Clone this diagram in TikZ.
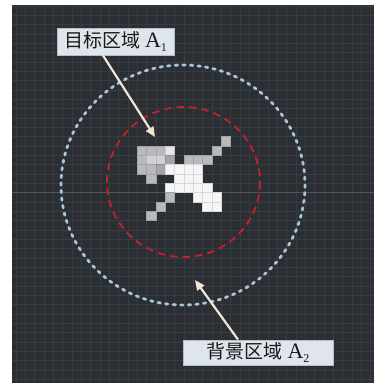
\documentclass[tikz,border=0pt]{standalone}
\usepackage{fontspec}
\setmainfont{Liberation Serif}
\newfontfamily\cjk{Noto Sans CJK SC}
\usetikzlibrary{arrows.meta}
\definecolor{bgc}{HTML}{2B2E33}
\definecolor{gridc}{HTML}{373B42}
\definecolor{axisc}{HTML}{50555D}
\definecolor{outerc}{HTML}{A9C6D8}
\definecolor{innerc}{HTML}{C8202A}
\definecolor{arrc}{HTML}{F0E6D8}
\definecolor{labfill}{HTML}{DFE5EC}
\definecolor{labdraw}{HTML}{B8BDC3}
\definecolor{pg}{HTML}{B7B9BD}
\definecolor{pl}{HTML}{D0D1D4}
\definecolor{pm}{HTML}{A3A5AA}
\definecolor{pw}{HTML}{F6F6F6}
\definecolor{pn}{HTML}{E6E6E8}
\tikzset{
  lab/.style={draw=labdraw, line width=0.8pt, fill=labfill, inner sep=0pt, text=black!90},
  arr/.style={draw=arrc, line width=2.2pt, -{Triangle[length=10pt,width=8.5pt]}, fill=arrc},
  cell/.style={line width=0.4pt}
}
\newcommand{\labtext}[2]{{\fontsize{19}{21}\selectfont\cjk #1}\hspace{5pt}{\fontsize{22}{22}\selectfont A}\raisebox{-3.5pt}{\fontsize{12}{12}\selectfont #2}}
\begin{document}
\begin{tikzpicture}[x=1pt,y=-1pt]
\useasboundingbox (0,0) rectangle (375,383);
\fill[white] (0,0) rectangle (375,383);
\fill[bgc] (12,5) rectangle (374,383);
% background grid
\begin{scope}
\clip (12,5) rectangle (374,383);
\foreach \k in {-14,...,26} {
  \draw[gridc, line width=0.6pt] ({137.3+9.333*\k},5) -- ({137.3+9.333*\k},383);
}
\foreach \k in {-16,...,26} {
  \draw[gridc, line width=0.6pt] (12,{146+9.333*\k}) -- (374,{146+9.333*\k});
}
\draw[axisc, line width=1pt] (12,192.7) -- (374,192.7);
\end{scope}
% pixel cells
\foreach \c/\r/\col in {9/-1/pg,
  0/0/pg,1/0/pg,2/0/pg,3/0/pn,8/0/pg,
  0/1/pg,1/1/pl,2/1/pl,3/1/pm,5/1/pg,6/1/pg,7/1/pg,
  0/2/pg,1/2/pg,2/2/pm,3/2/pw,4/2/pw,5/2/pw,6/2/pw,
  1/3/pg,4/3/pw,5/3/pw,6/3/pw,
  3/4/pw,4/4/pw,5/4/pw,6/4/pw,7/4/pw,
  3/5/pg,6/5/pw,7/5/pw,8/5/pw,
  2/6/pg,7/6/pw,8/6/pw,
  1/7/pg} {
  \filldraw[cell, fill=\col, draw=\col!88!black] ({137.3+9.333*\c},{146+9.333*\r}) rectangle ++(9.333,9.333);
}
% circles
\draw[outerc, line width=2.8pt, line cap=round, dash pattern=on 2.4pt off 5.2pt] (183,185) ellipse [x radius=122, y radius=120];
\draw[innerc, line width=1.8pt, dash pattern=on 7.5pt off 5pt] (183.5,182) ellipse [x radius=76.5, y radius=75];
% labels
\node[lab, minimum width=117pt, minimum height=27pt] (lab1) at (115.5,41.5) {\labtext{目标区域}{1}};
\node[lab, minimum width=150pt, minimum height=25pt] (lab2) at (258,352.5) {\labtext{背景区域}{2}};
\coordinate (s1) at ([xshift=-12.5pt]lab1.south);
\coordinate (t1) at (155,137);
\coordinate (s2) at ([xshift=-20pt]lab2.north);
\coordinate (t2) at (195,280);
\draw[arr] (s1) -- (t1);
\draw[arr] (s2) -- (t2);
\end{tikzpicture}
\end{document}
